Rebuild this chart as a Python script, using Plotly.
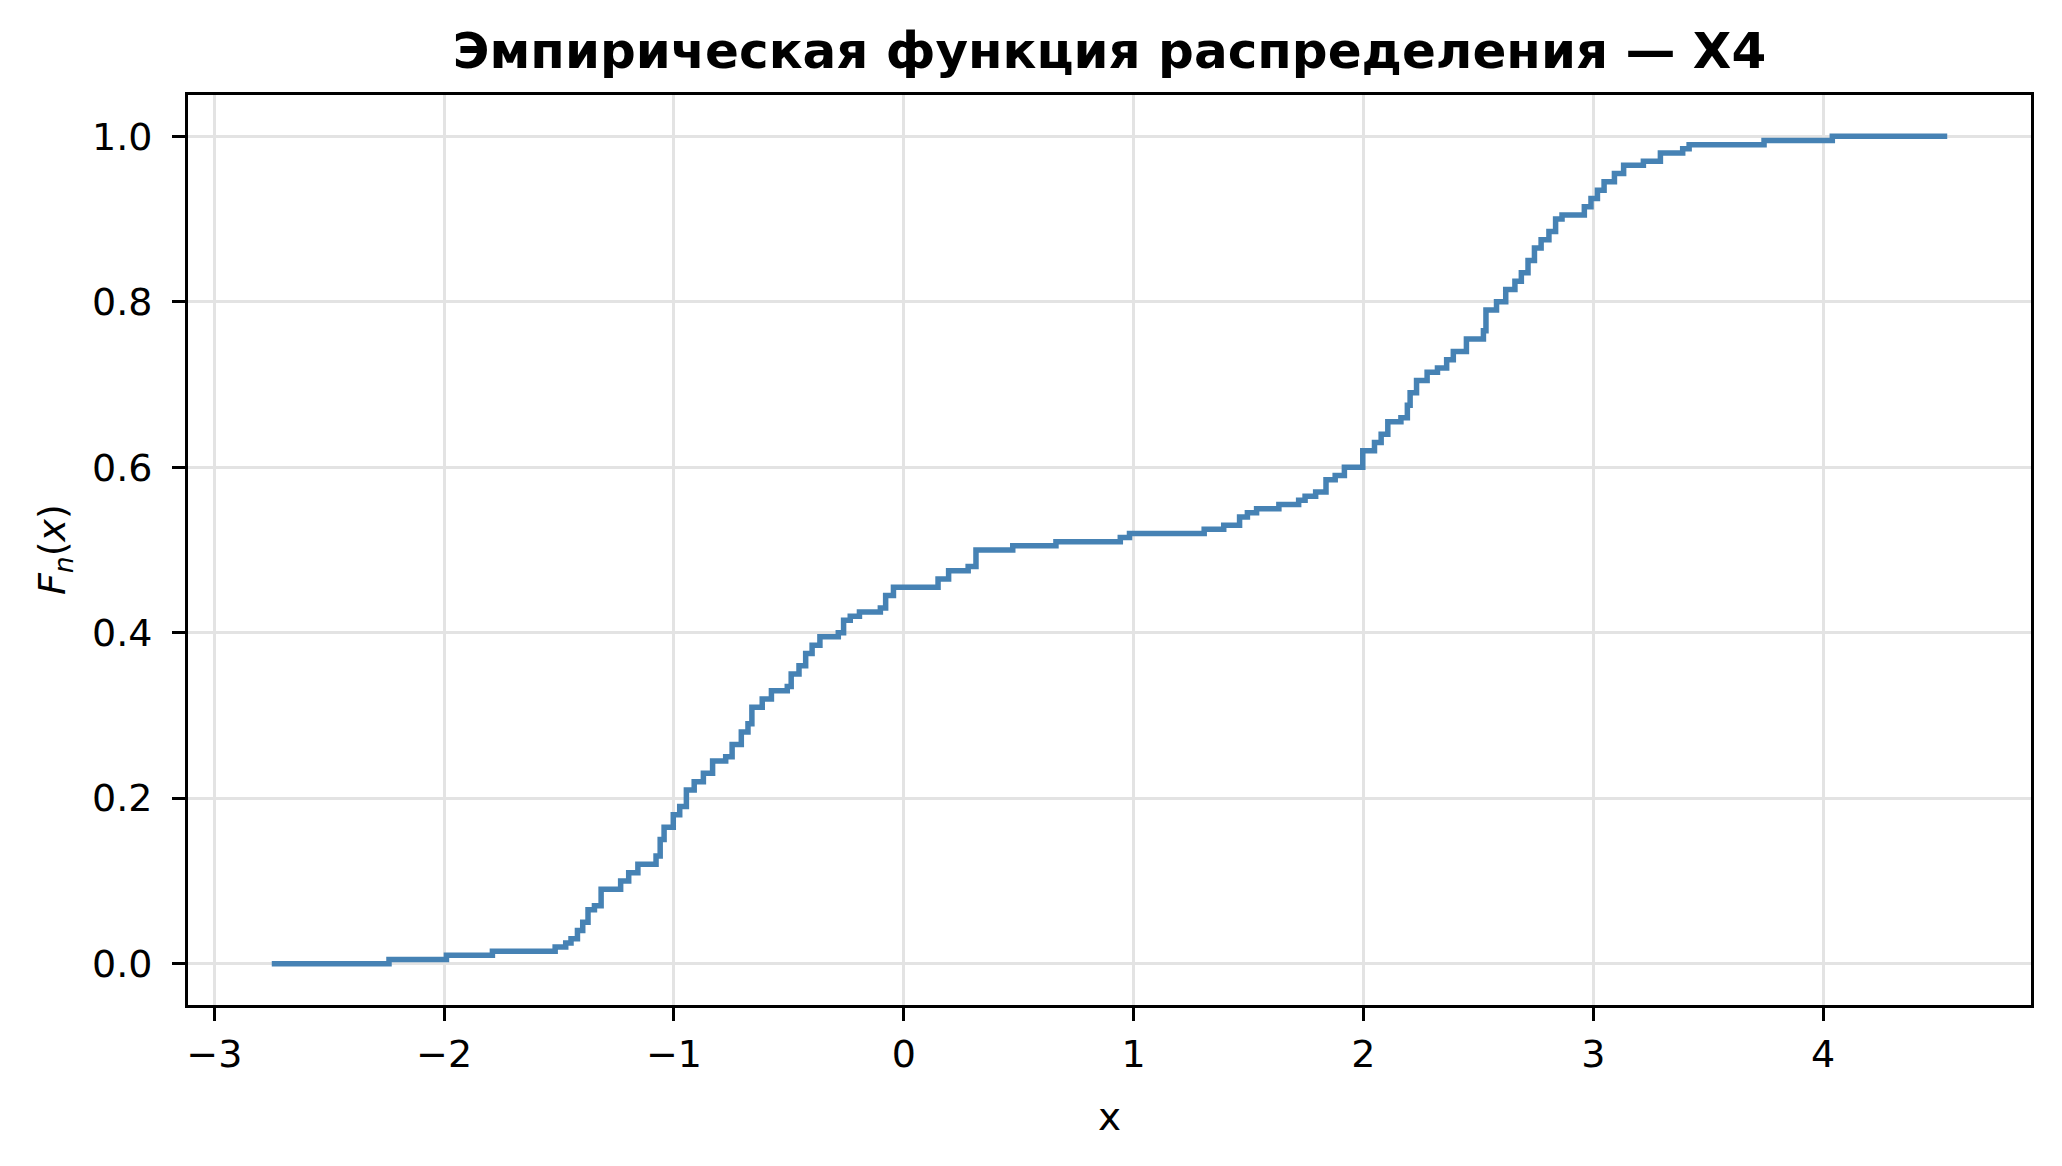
import plotly.graph_objects as go

# Empirical CDF of X4: start point, jump locations and levels after each jump, end point
x_start = -2.75
x_end = 4.54
jump_x = [-2.24, -1.99, -1.79, -1.517, -1.471, -1.448, -1.420, -1.397, -1.374, -1.346,
          -1.317, -1.232, -1.197, -1.157, -1.078, -1.060, -1.043, -1.003, -0.975, -0.946,
          -0.912, -0.872, -0.832, -0.775, -0.747, -0.707, -0.678, -0.661, -0.616, -0.576,
          -0.507, -0.490, -0.456, -0.427, -0.399, -0.365, -0.285, -0.262, -0.233, -0.193,
          -0.102, -0.079, -0.045, 0.149, 0.195, 0.280, 0.314, 0.474, 0.662, 0.942,
          0.982, 1.307, 1.392, 1.461, 1.495, 1.535, 1.632, 1.718, 1.746, 1.792,
          1.837, 1.877, 1.917, 1.997, 2.048, 2.077, 2.106, 2.163, 2.191, 2.203,
          2.231, 2.277, 2.322, 2.362, 2.391, 2.448, 2.522, 2.533, 2.579, 2.619,
          2.659, 2.687, 2.716, 2.744, 2.773, 2.807, 2.836, 2.864, 2.961, 2.990,
          3.018, 3.047, 3.092, 3.132, 3.218, 3.292, 3.389, 3.417, 3.743, 4.04]
jump_F = [0.005, 0.010, 0.015, 0.020, 0.025, 0.030, 0.040, 0.050, 0.065, 0.070,
          0.090, 0.100, 0.110, 0.120, 0.130, 0.150, 0.165, 0.180, 0.190, 0.210,
          0.220, 0.230, 0.245, 0.250, 0.265, 0.280, 0.290, 0.310, 0.320, 0.330,
          0.335, 0.350, 0.360, 0.375, 0.385, 0.395, 0.400, 0.415, 0.420, 0.425,
          0.430, 0.445, 0.455, 0.465, 0.475, 0.480, 0.500, 0.505, 0.510, 0.515,
          0.520, 0.525, 0.530, 0.540, 0.545, 0.550, 0.555, 0.560, 0.565, 0.570,
          0.585, 0.590, 0.600, 0.620, 0.630, 0.640, 0.655, 0.660, 0.675, 0.690,
          0.705, 0.715, 0.720, 0.730, 0.740, 0.755, 0.765, 0.790, 0.800, 0.815,
          0.825, 0.835, 0.850, 0.865, 0.875, 0.885, 0.900, 0.905, 0.915, 0.925,
          0.935, 0.945, 0.955, 0.965, 0.970, 0.980, 0.985, 0.990, 0.995, 1.000]

xs = [x_start] + jump_x + [x_end]
ys = [0.0] + jump_F + [jump_F[-1]]

x_ticks = [-3, -2, -1, 0, 1, 2, 3, 4]
y_ticks = [0.0, 0.2, 0.4, 0.6, 0.8, 1.0]

FONT = "DejaVu Sans"
W, H = 2062, 1166
ML, MR, MT, MB = 180, 39, 87, 169
PW, PH = W - ML - MR, H - MT - MB

fig = go.Figure()
fig.add_trace(go.Scatter(x=xs, y=ys, mode="lines", line_shape="hv",
                         line=dict(color="#4682B4", width=5.5), showlegend=False))

axis_common = dict(showline=True, linecolor="black", linewidth=3, mirror=True,
                   ticks="outside", ticklen=13, tickwidth=3, tickcolor="black",
                   showgrid=True, gridcolor="#e3e3e3", gridwidth=3, zeroline=False,
                   tickfont=dict(family=FONT, size=38, color="black"))

fig.update_layout(
    width=W, height=H,
    margin=dict(l=ML, r=MR, t=MT, b=MB),
    paper_bgcolor="white", plot_bgcolor="white",
    title=dict(text="<b>Эмпирическая функция распределения — X4</b>",
               x=(ML + PW / 2) / W, xanchor="center", y=1 - 42 / H, yanchor="middle",
               font=dict(family=FONT, size=50, color="black")),
    xaxis=dict(range=[-3.1145, 4.9045], tickvals=x_ticks, **axis_common),
    yaxis=dict(range=[-0.05, 1.05], tickvals=y_ticks, tickformat=".1f",
               ticklabelstandoff=12, **axis_common),
    annotations=[
        dict(text="x", xref="paper", yref="paper", x=0.5, y=-111 / PH,
             xanchor="center", yanchor="middle", showarrow=False,
             font=dict(family=FONT, size=39, color="black")),
        dict(text="<i>F</i><sub><i>n</i></sub>(<i>x</i>)", xref="paper", yref="paper",
             x=-(ML - 46) / PW, y=0.5, xanchor="center", yanchor="middle", textangle=-90,
             showarrow=False, font=dict(family=FONT, size=38, color="black")),
    ],
)

fig.write_html("out.html")
